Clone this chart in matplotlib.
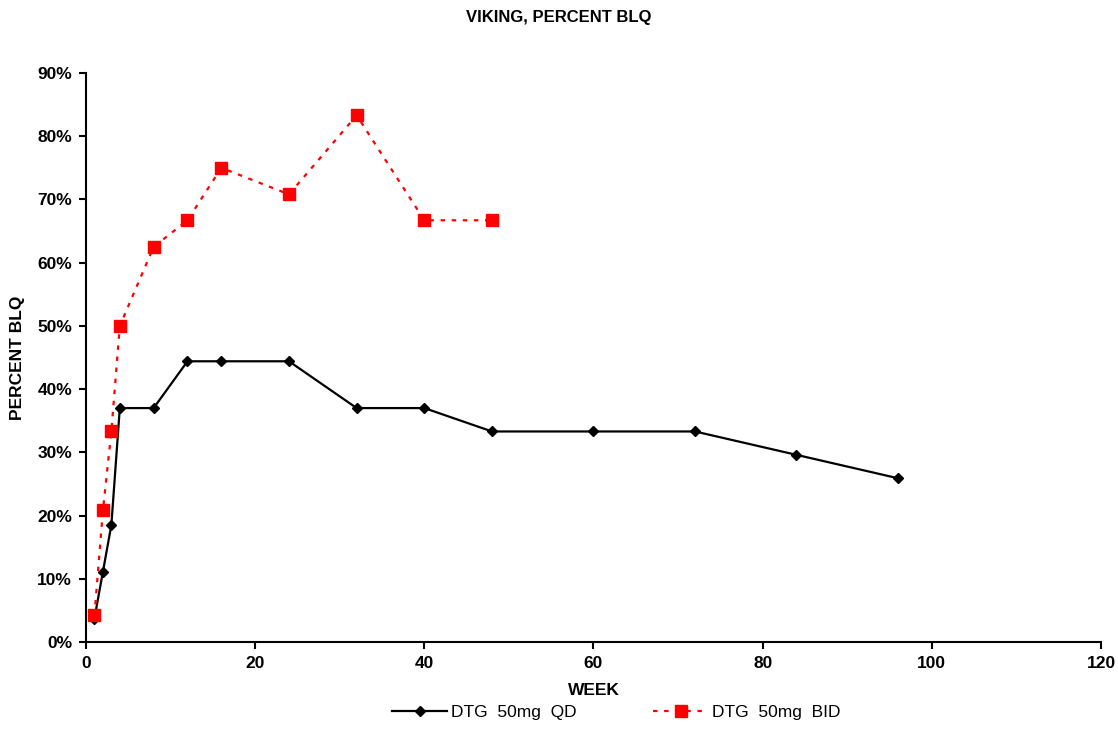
import matplotlib
matplotlib.use("Agg")
import matplotlib.pyplot as plt
from matplotlib.ticker import FuncFormatter, MultipleLocator
from matplotlib import font_manager

names = {f.name for f in font_manager.fontManager.ttflist}
narrow = 'Liberation Sans Narrow' if 'Liberation Sans Narrow' in names else 'Liberation Sans'
plt.rcParams['font.family'] = ['Liberation Sans', 'DejaVu Sans']

weeks_qd = [1, 2, 3, 4, 8, 12, 16, 24, 32, 40, 48, 60, 72, 84, 96]
pct_qd = [3.7, 11.1, 18.5, 37.0, 37.0, 44.4, 44.4, 44.4, 37.0, 37.0, 33.3, 33.3, 33.3, 29.6, 25.9]
weeks_bid = [1, 2, 3, 4, 8, 12, 16, 24, 32, 40, 48]
pct_bid = [4.2, 20.8, 33.3, 50.0, 62.5, 66.7, 75.0, 70.8, 83.3, 66.7, 66.7]
labels = ['DTG  50mg  QD', 'DTG  50mg  BID']

fig = plt.figure(figsize=(11.18, 7.53), dpi=100)
ax = fig.add_axes([0.0769, 0.1474, 0.9079, 0.7557])

ax.plot(weeks_qd, pct_qd, color='black', lw=1.6, marker='D', ms=5, label=labels[0])
ax.plot(weeks_bid, pct_bid, color='#ff0000', lw=1.6, ls=(0, (2, 3)), marker='s', ms=8.5,
        label=labels[1])

ax.set_xlim(0, 120)
ax.set_ylim(0, 90)
ax.xaxis.set_major_locator(MultipleLocator(20))
ax.yaxis.set_major_locator(MultipleLocator(10))
ax.yaxis.set_major_formatter(FuncFormatter(lambda v, p: f"{int(round(v))}%"))
for s in ['top', 'right']:
    ax.spines[s].set_visible(False)
for s in ['left', 'bottom']:
    ax.spines[s].set_linewidth(1.5)
ax.tick_params(direction='out', length=5, width=1.5, labelsize=12.5, pad=5)
for lab in ax.get_xticklabels() + ax.get_yticklabels():
    lab.set_fontweight('bold')
    lab.set_family([narrow, 'DejaVu Sans'])

ax.set_xlabel('WEEK', fontsize=12.5, fontweight='bold', labelpad=9)
ax.set_ylabel('PERCENT BLQ', fontsize=12.5, fontweight='bold', labelpad=9)
fig.text(0.5, 0.977, 'VIKING, PERCENT BLQ', ha='center', va='center', fontsize=12,
         fontweight='bold', family=[narrow, 'DejaVu Sans'])

leg = fig.legend(loc='center', bbox_to_anchor=(0.551, 0.054), ncol=2, frameon=False,
                 prop={'size': 12.5}, handlelength=3.2, columnspacing=4.4,
                 handletextpad=0.2)

fig.savefig('out.png', dpi=100)
